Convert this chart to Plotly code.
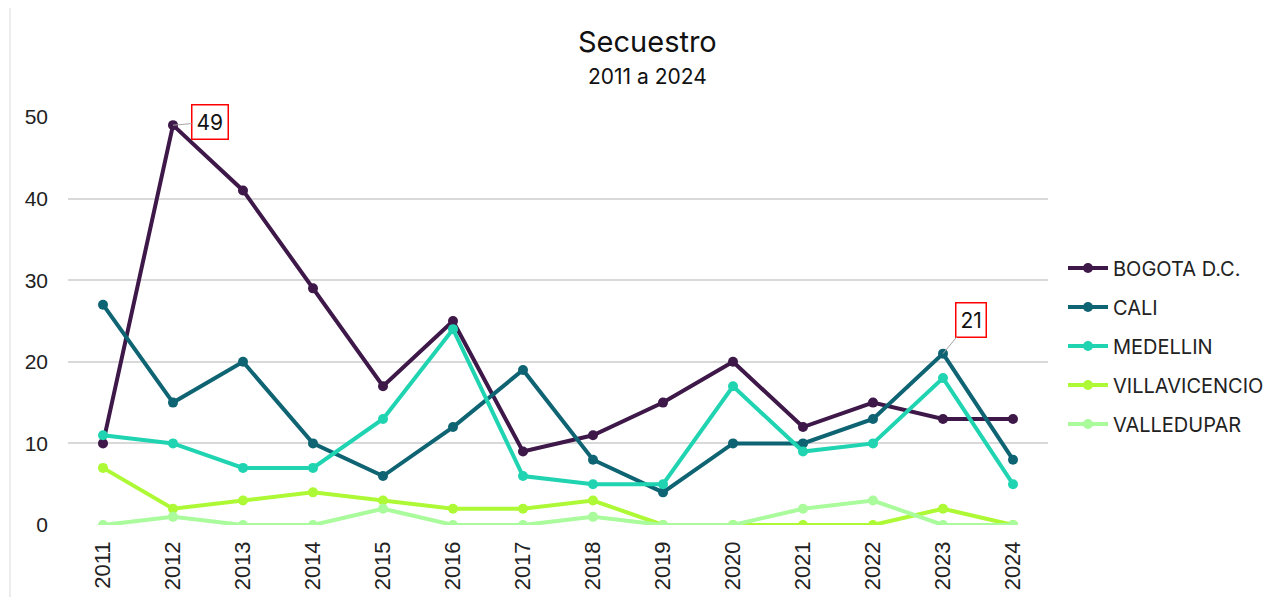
import plotly.graph_objects as go

years = ["2011","2012","2013","2014","2015","2016","2017","2018","2019","2020","2021","2022","2023","2024"]
bogota = [10, 49, 41, 29, 17, 25, 9, 11, 15, 20, 12, 15, 13, 13]
cali = [27, 15, 20, 10, 6, 12, 19, 8, 4, 10, 10, 13, 21, 8]
medellin = [11, 10, 7, 7, 13, 24, 6, 5, 5, 17, 9, 10, 18, 5]
villavicencio = [7, 2, 3, 4, 3, 2, 2, 3, 0, 0, 0, 0, 2, 0]
valledupar = [0, 1, 0, 0, 2, 0, 0, 1, 0, 0, 2, 3, 0, 0]

series = [
    ("BOGOTA D.C.", bogota, "#3d1848"),
    ("CALI", cali, "#0f6473"),
    ("MEDELLIN", medellin, "#20d4b2"),
    ("VILLAVICENCIO", villavicencio, "#adf935"),
    ("VALLEDUPAR", valledupar, "#a9fb9c"),
]

fig = go.Figure()
for name, vals, col in series:
    fig.add_trace(go.Scatter(
        x=years, y=vals, name=name, mode="lines+markers", legendgroup=name,
        line=dict(color=col, width=4),
        marker=dict(color=col, size=10),
    ))

W, H = 1273, 589
L, R, T, B = 60, 233, 109, 72
PW, PH = W - L - R, H - T - B

def px(xp):
    return (xp - 8 - L) / PW

def py(yp):
    return (H - B - (yp - 8)) / PH

fig.update_layout(
    width=W, height=H,
    margin=dict(l=L, r=R, t=T, b=B, autoexpand=False),
    paper_bgcolor="white", plot_bgcolor="white",
    font=dict(family="Liberation Sans, Arial, sans-serif", color="#222222"),
    showlegend=True,
    legend=dict(xref="container", x=(1063 - 8) / W, xanchor="left",
                yref="container", y=(H - (346 - 8)) / H, yanchor="middle",
                traceorder="grouped", font=dict(size=20, family="Inter", color="#222"),
                itemwidth=40, tracegroupgap=10, bgcolor="rgba(0,0,0,0)"),
    xaxis=dict(type="category", tickangle=-90,
               tickfont=dict(size=22, family="Liberation Sans, Arial, sans-serif"),
               showgrid=False, showline=False, ticks="", zeroline=False,
               range=[-0.5, 13.5], ticklabelstandoff=11),
    yaxis=dict(range=[0, 50], dtick=10,
               tickfont=dict(size=21, family="Liberation Sans, Arial, sans-serif"),
               showgrid=True, gridcolor="#d9d9d9", gridwidth=1.5,
               zeroline=False, showline=False, ticks="", ticklabelstandoff=19),
)

fig.add_annotation(xref="paper", yref="paper", x=px(647), y=py(41),
                   text="Secuestro", showarrow=False, font=dict(size=29, family="Inter", color="#111"),
                   xanchor="center", yanchor="middle")
fig.add_annotation(xref="paper", yref="paper", x=px(647), y=py(77),
                   text="2011 a 2024", showarrow=False, font=dict(size=21, family="Inter", color="#111"),
                   xanchor="center", yanchor="middle")

# data callouts (category index positions)
i1 = years.index("2012")
i2 = years.index("2023")
fig.add_annotation(x=i1, y=bogota[i1], text=str(bogota[i1]), showarrow=True,
                   arrowhead=0, arrowcolor="#a6a6a6", arrowwidth=1, ax=37, ay=-3,
                   bordercolor="#ff0000", borderwidth=1.5, borderpad=4, bgcolor="white",
                   font=dict(size=21, color="#111", family="Inter"))
fig.add_annotation(x=i2, y=cali[i2], text=str(cali[i2]), showarrow=True,
                   arrowhead=0, arrowcolor="#a6a6a6", arrowwidth=1, ax=28, ay=-34,
                   bordercolor="#ff0000", borderwidth=1.5, borderpad=4, bgcolor="white",
                   font=dict(size=21, color="#111", family="Inter"))

# chart border
fig.add_shape(type="rect", xref="paper", yref="paper",
              x0=px(10), x1=px(1300), y0=py(620), y1=py(6),
              line=dict(color="#d9d9d9", width=1), layer="below")

fig.write_html("out.html")
